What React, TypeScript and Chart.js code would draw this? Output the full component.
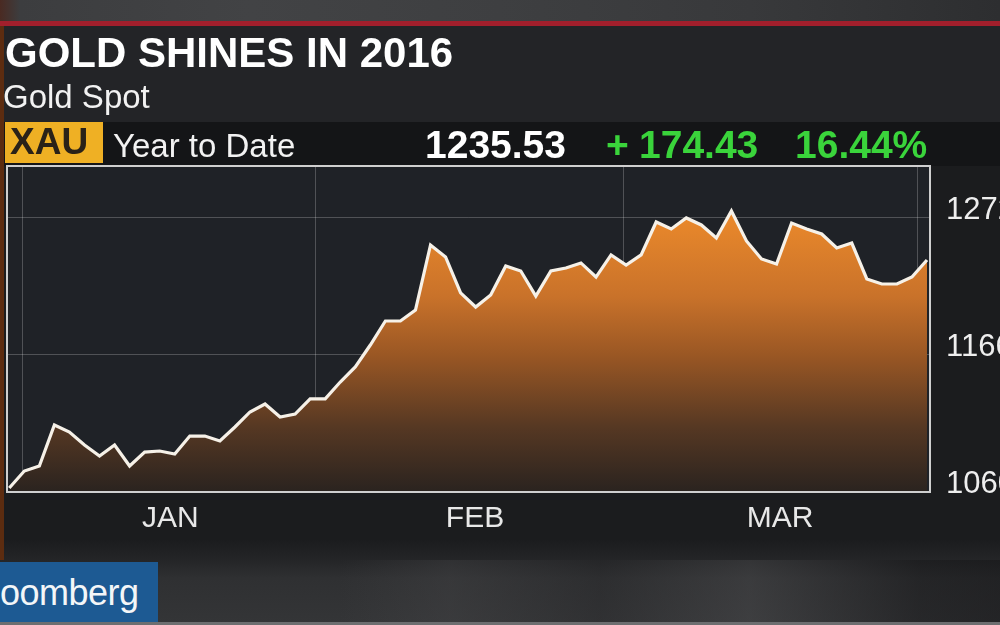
import React, { useEffect, useRef } from "react";
import { Chart, registerables } from "chart.js";

Chart.register(...registerables);

// Gold spot, trading days from Dec 31 2015 (index 0) to the latest point
const PRICES: number[] = [
  1063.1, 1076.2, 1080.1, 1111.8, 1106.4, 1096.4, 1087.9, 1096.4, 1080.1, 1090.9,
  1091.7, 1089.4, 1103.3, 1103.3, 1099.5, 1110.3, 1121.9, 1128.1, 1118.0, 1120.3,
  1132.0, 1132.0, 1145.1, 1156.7, 1173.7, 1192.3, 1192.3, 1200.8, 1251.1, 1241.8,
  1214.0, 1203.1, 1212.4, 1234.9, 1231.0, 1211.6, 1231.0, 1233.3, 1237.2, 1226.3,
  1243.4, 1235.6, 1243.4, 1268.9, 1263.5, 1272.0, 1266.6, 1256.5, 1277.4, 1254.2,
  1240.3, 1236.4, 1268.1, 1263.5, 1259.6, 1248.8, 1252.6, 1224.8, 1220.9, 1220.9,
  1226.3, 1239.5,
];
const DAY_INDEX: number[] = PRICES.map((_, i) => i);

// month boundaries (grid) and month label positions, in trading-day index units
const MONTH_EDGES: number[] = [0.86, 20.33, 40.86, 60.4];
const MONTH_LABEL_POS: number[] = [10.7, 30.96, 51.23];
const MONTH_LABELS: string[] = ["JAN", "FEB", "MAR"];

// y axis ticks
const Y_TICKS: number[] = [1060, 1166, 1272];
const Y_MIN = 1060;
const Y_MAX = 1312.2;
const X_MIN = -0.15;
const X_MAX = 61.2;

const TITLE = "GOLD SHINES IN 2016";
const SUBTITLE = "Gold Spot";
const TICKER = "XAU";
const PERIOD = "Year to Date";
const LAST = "1235.53";
const CHANGE_SIGN = "+";
const CHANGE = "174.43";
const CHANGE_PCT = "16.44%";

const FONT = "'Liberation Sans', Arial, Helvetica, sans-serif";

const plotBgPlugin = {
  id: "plotBg",
  beforeDraw(chart: any) {
    const { ctx, chartArea } = chart;
    if (!chartArea) return;
    ctx.save();
    ctx.fillStyle = "#1f2227";
    ctx.fillRect(chartArea.left, chartArea.top, chartArea.right - chartArea.left, chartArea.bottom - chartArea.top);
    ctx.restore();
  },
  afterDraw(chart: any) {
    const { ctx, chartArea } = chart;
    if (!chartArea) return;
    ctx.save();
    ctx.strokeStyle = "#cfcfcf";
    ctx.lineWidth = 2;
    ctx.strokeRect(chartArea.left, chartArea.top, chartArea.right - chartArea.left, chartArea.bottom - chartArea.top);
    ctx.restore();
  },
};

function GoldChart() {
  const ref = useRef<HTMLCanvasElement | null>(null);
  useEffect(() => {
    if (!ref.current) return;
    const chart = new Chart(ref.current, {
      type: "line",
      data: {
        datasets: [
          {
            data: DAY_INDEX.map((x, i) => ({ x, y: PRICES[i] })),
            borderColor: "#f6f1e8",
            borderWidth: 3.2,
            pointRadius: 0,
            tension: 0,
            fill: "start",
            backgroundColor: (c: any) => {
              const { chart: ch } = c;
              const area = ch.chartArea;
              if (!area) return "rgba(0,0,0,0)";
              const g = ch.ctx.createLinearGradient(0, area.top, 0, area.bottom);
              g.addColorStop(0, "#f6952f");
              g.addColorStop(0.16, "#e9882b");
              g.addColorStop(0.4, "#c9722a");
              g.addColorStop(0.58, "#9a5724");
              g.addColorStop(0.8, "#563823");
              g.addColorStop(1, "#2a231f");
              return g;
            },
          },
        ],
      },
      options: {
        animation: false,
        responsive: false,
        maintainAspectRatio: false,
        layout: { padding: { top: 166, left: 7, right: 0, bottom: 0 } },
        plugins: { legend: { display: false }, tooltip: { enabled: false } },
        scales: {
          x: {
            type: "linear",
            position: "bottom",
            min: X_MIN,
            max: X_MAX,
            z: 1,
            afterBuildTicks: (axis: any) => {
              const vals = [...MONTH_EDGES, ...MONTH_LABEL_POS].sort((a, b) => a - b);
              axis.ticks = vals.map((v) => ({ value: v }));
            },
            afterFit: (axis: any) => {
              axis.height = 133;
            },
            grid: {
              drawTicks: false,
              lineWidth: 1,
              color: (c: any) =>
                c.tick && MONTH_EDGES.includes(c.tick.value) ? "rgba(255,255,255,0.22)" : "rgba(0,0,0,0)",
            },
            border: { display: false },
            ticks: {
              autoSkip: false,
              maxRotation: 0,
              padding: 9,
              color: "#e8e8e8",
              font: { family: FONT, size: 30 },
              callback: (value: any) => {
                const k = MONTH_LABEL_POS.indexOf(Number(value));
                return k >= 0 ? MONTH_LABELS[k] : "";
              },
            },
          },
          y: {
            type: "linear",
            position: "right",
            min: Y_MIN,
            max: Y_MAX,
            z: 1,
            afterBuildTicks: (axis: any) => {
              axis.ticks = Y_TICKS.map((v) => ({ value: v }));
            },
            afterFit: (axis: any) => {
              axis.width = 70;
            },
            grid: {
              drawTicks: false,
              lineWidth: 1,
              color: (c: any) => (c.tick && c.tick.value === Y_MIN ? "rgba(0,0,0,0)" : "rgba(255,255,255,0.22)"),
            },
            border: { display: false },
            ticks: {
              padding: 16,
              labelOffset: -8,
              color: "#eeeeee",
              font: { family: FONT, size: 31 },
              callback: (value: any) => String(value),
            },
          },
        },
      },
      plugins: [plotBgPlugin],
    });
    return () => chart.destroy();
  }, []);
  return <canvas ref={ref} width={1000} height={625} style={{ position: "absolute", left: 0, top: 0 }} />;
}

const abs = (o: React.CSSProperties): React.CSSProperties => ({ position: "absolute", ...o });
const textTop = (baseline: number, size: number) => baseline - 0.8465 * size;

export default function App() {
  useEffect(() => {
    document.body.style.margin = "0";
    document.body.style.background = "#1b1c1f";
  }, []);
  const line: React.CSSProperties = { lineHeight: 1, whiteSpace: "nowrap", margin: 0 };
  return (
    <div
      style={{
        position: "relative",
        width: 1000,
        height: 625,
        overflow: "hidden",
        background: "#1b1c1e",
        fontFamily: FONT,
      }}
    >
      {/* studio strip on top */}
      <div
        style={abs({
          left: 0,
          top: 0,
          width: 1000,
          height: 23,
          background:
            "linear-gradient(90deg, #4a2a22 0%, #3c3d3f 2%, #424345 25%, #3e3f41 50%, #38393b 75%, #2d2e30 100%)",
        })}
      />
      <div style={abs({ left: 0, top: 21, width: 1000, height: 5, background: "#a21f2c" })} />
      {/* title panel */}
      <div style={abs({ left: 0, top: 26, width: 1000, height: 96, background: "#232427" })} />
      {/* header strip */}
      <div style={abs({ left: 0, top: 122, width: 1000, height: 44, background: "#141517" })} />
      {/* bottom studio area */}
      <div
        style={abs({
          left: 0,
          top: 540,
          width: 1000,
          height: 85,
          background:
            "linear-gradient(180deg, #1b1c1e 0%, #252628 25%, #2f3032 45%, #343537 100%)",
        })}
      />
      <div
        style={abs({
          left: 0,
          top: 560,
          width: 1000,
          height: 65,
          background:
            "linear-gradient(90deg, rgba(0,0,0,0) 0%, rgba(0,0,0,0) 34%, rgba(70,70,72,0.35) 45%, rgba(40,40,42,0.3) 60%, rgba(80,80,82,0.35) 75%, rgba(20,20,22,0.4) 92%, rgba(20,20,22,0.5) 100%)",
        })}
      />
      {/* left edge strip */}
      <div style={abs({ left: 0, top: 26, width: 4, height: 534, background: "#5c2c10" })} />
      {/* logo */}
      <div style={abs({ left: 0, top: 562, width: 158, height: 60, background: "#1d5a93" })} />
      <div
        style={abs({
          ...line,
          left: 0,
          top: textTop(605, 36),
          fontSize: 36,
          color: "#f4f6f8",
          letterSpacing: -0.5,
        })}
      >
        oomberg
      </div>
      <div style={abs({ left: 0, top: 622, width: 1000, height: 3, background: "#6d6e70" })} />

      <GoldChart />

      {/* texts */}
      <div style={abs({ ...line, left: 5, top: textTop(68, 42), fontSize: 42, fontWeight: 700, color: "#ffffff" })}>
        {TITLE}
      </div>
      <div style={abs({ ...line, left: 3, top: textTop(108, 33), fontSize: 33, color: "#f2f2f2" })}>{SUBTITLE}</div>
      <div style={abs({ left: 5, top: 122, width: 98, height: 41, background: "#efb024" })} />
      <div style={abs({ ...line, left: 10, top: textTop(154, 37), fontSize: 37, fontWeight: 700, color: "#2a2218" })}>
        {TICKER}
      </div>
      <div style={abs({ ...line, left: 113, top: textTop(157, 33), fontSize: 33, color: "#f2f2f2" })}>{PERIOD}</div>
      <div style={abs({ ...line, left: 425, top: textTop(158, 39), fontSize: 39, fontWeight: 700, color: "#ffffff" })}>
        {LAST}
      </div>
      <div style={abs({ ...line, left: 606, top: textTop(158, 39), fontSize: 39, fontWeight: 700, color: "#3ad43b" })}>
        {CHANGE_SIGN}
      </div>
      <div style={abs({ ...line, left: 639, top: textTop(158, 39), fontSize: 39, fontWeight: 700, color: "#3ad43b" })}>
        {CHANGE}
      </div>
      <div style={abs({ ...line, left: 795, top: textTop(158, 39), fontSize: 39, fontWeight: 700, color: "#3ad43b" })}>
        {CHANGE_PCT}
      </div>
    </div>
  );
}
